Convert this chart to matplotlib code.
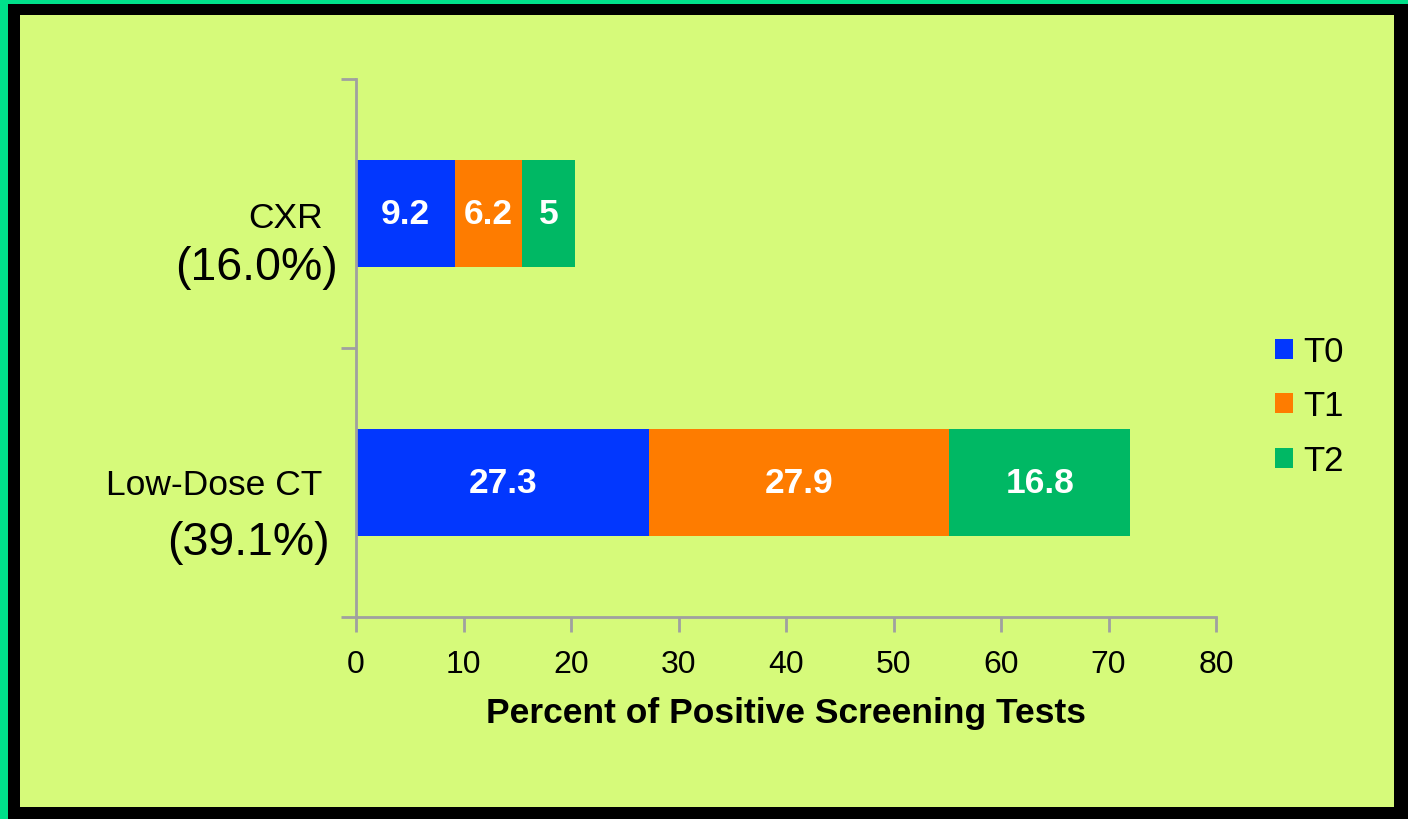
import matplotlib
matplotlib.use("Agg")
import matplotlib.pyplot as plt
from matplotlib.patches import Rectangle

# Data
categories = ["Low-Dose CT", "CXR"]
overall = ["(39.1%)", "(16.0%)"]
series_names = ["T0", "T1", "T2"]
t0 = [27.3, 9.2]
t1 = [27.9, 6.2]
t2 = [16.8, 5.0]
value_labels = [["27.3", "9.2"], ["27.9", "6.2"], ["16.8", "5"]]
x_ticks = [0, 10, 20, 30, 40, 50, 60, 70, 80]

colors = ["#0237FE", "#FE7C00", "#00B864"]
bg = "#D6FA7A"
axis_gray = "#A0A0A0"

plt.rcParams["font.family"] = ["Liberation Sans", "DejaVu Sans"]

W, H = 1408, 820
fig = plt.figure(figsize=(W / 100, H / 100), dpi=100)
fig.patch.set_facecolor("#00E08A")

# Black frame and inner panel
fig.patches.append(Rectangle((8 / W, 0), 1 - 8 / W, 1 - 5 / H,
                             transform=fig.transFigure, facecolor="black",
                             edgecolor="none", zorder=-10))
fig.patches.append(Rectangle((20 / W, 12 / H), 1 - 34 / W, 1 - 28 / H,
                             transform=fig.transFigure, facecolor=bg,
                             edgecolor="none", zorder=-9))

ax = fig.add_axes([356 / W, 1 - 618 / H, 860 / W, 538 / H])
ax.set_facecolor("none")

ypos = [0, 1]
height = 0.4
series = [t0, t1, t2]
left = [0.0, 0.0]
for i, (vals, name) in enumerate(zip(series, series_names)):
    bars = ax.barh(ypos, vals, height=height, left=left, color=colors[i],
                   label=name, zorder=2)
    for j, b in enumerate(bars):
        ax.text(left[j] + vals[j] / 2, ypos[j], value_labels[i][j],
                ha="center", va="center", color="white", fontsize=25.5,
                fontweight="bold", zorder=3)
    left = [l + v for l, v in zip(left, vals)]

ax.set_xlim(0, 80)
ax.set_ylim(-0.5, 1.5)
ax.set_xticks(x_ticks)
ax.set_xticklabels([str(t) for t in x_ticks], fontsize=23)
ax.set_yticks([-0.5, 0.5, 1.5])
ax.set_yticklabels([])
ax.tick_params(axis="both", color=axis_gray, width=2, length=11, direction="out")
ax.tick_params(axis="x", pad=12)
for s in ["top", "right"]:
    ax.spines[s].set_visible(False)
for s in ["left", "bottom"]:
    ax.spines[s].set_color(axis_gray)
    ax.spines[s].set_linewidth(2)

ax.set_xlabel("Percent of Positive Screening Tests", fontsize=25.5,
              fontweight="bold", labelpad=12)

# Category labels with overall percentages
to_ax = ax.transAxes
def fx(px):
    return (px - 356) / 860
def fy(py):
    return (618 - py) / 538

ax.text(fx(323), fy(228), categories[1], transform=to_ax, ha="right",
        va="baseline", fontsize=25.5)
ax.text(fx(338), fy(280), overall[1], transform=to_ax, ha="right",
        va="baseline", fontsize=33.5)
ax.text(fx(322), fy(495), categories[0], transform=to_ax, ha="right",
        va="baseline", fontsize=25.5)
ax.text(fx(330), fy(555), overall[0], transform=to_ax, ha="right",
        va="baseline", fontsize=33.5)

leg = ax.legend(loc="center left", bbox_to_anchor=(fx(1244), fy(407)),
                frameon=False, fontsize=25, handlelength=0.52,
                handleheight=0.52, handletextpad=0.3, labelspacing=0.62)

fig.savefig("out.png", dpi=100, facecolor=fig.get_facecolor())
